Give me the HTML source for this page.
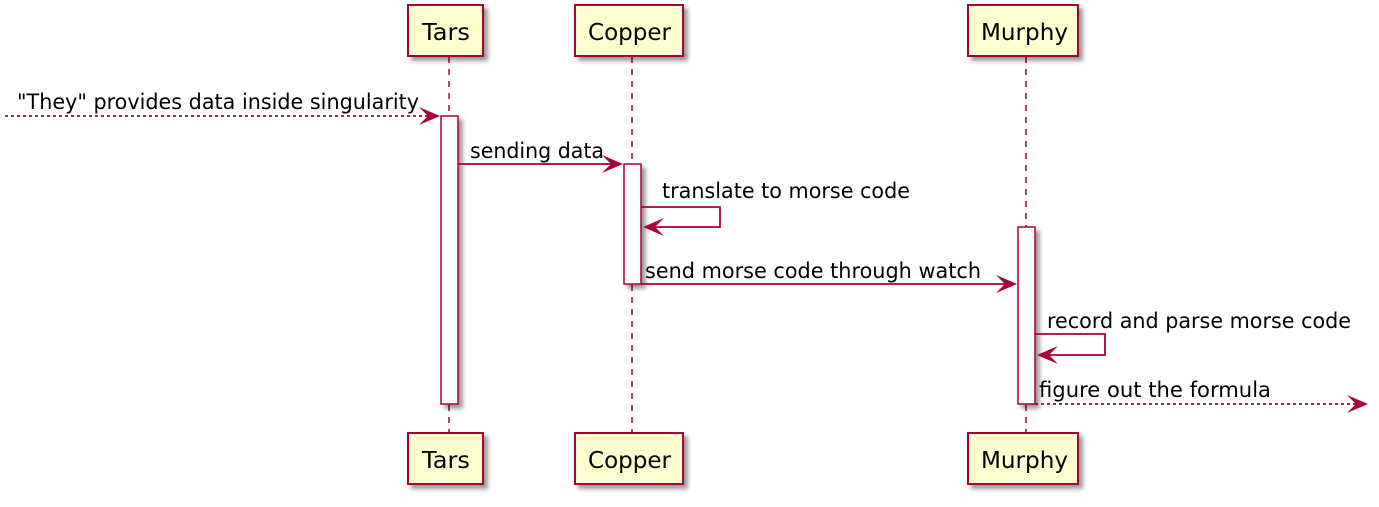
<!DOCTYPE html>
<html><head><style>html,body{margin:0;padding:0;background:#fff}</style></head>
<body>
<svg width="1379" height="502" xmlns="http://www.w3.org/2000/svg" font-family="'DejaVu Sans','Liberation Sans',sans-serif">
<defs>
<filter id="sh" x="-20%" y="-20%" width="150%" height="150%"><feGaussianBlur in="SourceAlpha" stdDeviation="2"/><feOffset dx="4" dy="4"/><feComponentTransfer><feFuncA type="linear" slope="0.4"/></feComponentTransfer><feMerge><feMergeNode/><feMergeNode in="SourceGraphic"/></feMerge></filter>
</defs>
<g stroke="#A80036" stroke-width="1.5" stroke-dasharray="6,6">
<line x1="449" y1="57" x2="449" y2="433"/>
<line x1="632" y1="57" x2="632" y2="433"/>
<line x1="1026" y1="57" x2="1026" y2="433"/>
</g>
<g fill="#FEFECE" stroke="#A80036" stroke-width="2" filter="url(#sh)">
<rect x="408" y="5" width="75" height="51"/>
<rect x="575" y="5" width="108" height="51"/>
<rect x="968" y="5" width="110" height="51"/>
<rect x="408" y="433" width="75" height="51"/>
<rect x="575" y="433" width="108" height="51"/>
<rect x="968" y="433" width="110" height="51"/>
</g>
<g fill="#fff" stroke="#A80036" stroke-width="1.5" filter="url(#sh)">
<rect x="441" y="116" width="17" height="288"/>
<rect x="624" y="164" width="17" height="120"/>
<rect x="1018" y="227" width="17" height="177"/>
</g>
<g font-size="23" fill="#000">
<text x="422" y="40" textLength="48" lengthAdjust="spacingAndGlyphs">Tars</text>
<text x="588" y="40" textLength="83" lengthAdjust="spacingAndGlyphs">Copper</text>
<text x="981" y="40" textLength="87" lengthAdjust="spacingAndGlyphs">Murphy</text>
<text x="422" y="468" textLength="48" lengthAdjust="spacingAndGlyphs">Tars</text>
<text x="588" y="468" textLength="83" lengthAdjust="spacingAndGlyphs">Copper</text>
<text x="981" y="468" textLength="87" lengthAdjust="spacingAndGlyphs">Murphy</text>
</g>
<g stroke="#A80036" stroke-width="1.8" fill="none">
<line x1="5" y1="116" x2="436" y2="116" stroke-dasharray="3,3"/>
<line x1="458" y1="164" x2="620" y2="164"/>
<polyline points="641,207 720,207 720,227 646,227"/>
<line x1="641" y1="284" x2="1014" y2="284"/>
<polyline points="1035,334 1105,334 1105,355 1040,355"/>
<line x1="1035" y1="404" x2="1364" y2="404" stroke-dasharray="3,3"/>
</g>
<g fill="#A80036">
<polygon points="440,116 419,107 428,116 419,125"/>
<polygon points="623,164 602,155 611,164 602,173"/>
<polygon points="643,227 664,218 655,227 664,236"/>
<polygon points="1017,284 996,275 1005,284 996,293"/>
<polygon points="1037,355 1058,346 1049,355 1058,364"/>
<polygon points="1368,404 1347,395 1356,404 1347,413"/>
</g>
<g font-size="21" fill="#000">
<text x="17" y="109" textLength="402" lengthAdjust="spacingAndGlyphs">"They" provides data inside singularity</text>
<text x="470" y="158" textLength="134" lengthAdjust="spacingAndGlyphs">sending data</text>
<text x="662" y="198" textLength="248" lengthAdjust="spacingAndGlyphs">translate to morse code</text>
<text x="645" y="278" textLength="336" lengthAdjust="spacingAndGlyphs">send morse code through watch</text>
<text x="1047" y="328" textLength="304" lengthAdjust="spacingAndGlyphs">record and parse morse code</text>
<text x="1039" y="397" textLength="232" lengthAdjust="spacingAndGlyphs">figure out the formula</text>
</g>
</svg>
</body></html>
